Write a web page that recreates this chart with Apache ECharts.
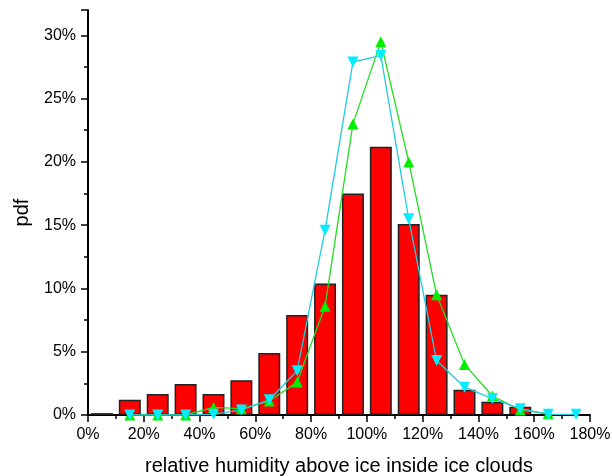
<!DOCTYPE html>
<html><head><meta charset="utf-8">
<script src="https://cdn.jsdelivr.net/npm/echarts@6/dist/echarts.min.js"></script>
<style>html,body{margin:0;padding:0;background:#fff}#c{width:612px;height:476px}</style>
</head><body><div id="c"></div>
<script>
const barX = [5,15,25,35,45,55,65,75,85,95,105,115,125,135,145,155];
const barY = [0.15,1.2,1.65,2.45,1.65,2.75,4.9,7.9,10.4,17.5,21.2,15.1,9.5,2.0,1.05,0.65];
const greenX = [15,25,35,45,55,65,75,85,95,105,115,125,135,145,155,165];
const greenY = [0,0,0,0.6,0.5,1.1,2.6,8.6,23.0,29.5,20.0,9.5,4.0,1.5,0.4,0.1];
const cyanX = [15,25,35,45,55,65,75,85,95,105,115,125,135,145,155,165,175];
const cyanY = [0,0,0,0.05,0.4,1.2,3.5,14.6,27.9,28.4,15.5,4.3,2.2,1.3,0.5,0.05,0.05];
const xTicks = [0,20,40,60,80,100,120,140,160,180];
const yTicks = [0,5,10,15,20,25,30];

const zip = (a,b) => a.map((v,i)=>[v,b[i]]);
const chart = echarts.init(document.getElementById('c'));
const font = 'Liberation Sans, Arial, sans-serif';
chart.setOption({
  animation:false,
  grid:{left:88,right:22,top:10,bottom:61,containLabel:false,outerBoundsMode:'none'},
  xAxis:{type:'value',min:0,max:180,interval:20,
    name:'relative humidity above ice inside ice clouds',nameLocation:'middle',nameGap:41,
    nameTextStyle:{fontFamily:font,fontSize:20,color:'#000'},
    axisLine:{lineStyle:{color:'#000',width:2}},
    axisTick:{show:true,length:7,lineStyle:{color:'#000',width:1.5}},
    minorTick:{show:true,splitNumber:2,length:4,lineStyle:{color:'#000',width:1.5}},
    splitLine:{show:false},
    axisLabel:{fontFamily:font,fontSize:16,color:'#000',margin:12,
      formatter:v=>xTicks.includes(v)?v+'%':''}},
  yAxis:{type:'value',min:0,max:32,interval:5,
    name:'pdf',nameLocation:'middle',nameGap:56,nameRotate:90,
    nameTextStyle:{fontFamily:font,fontSize:20,color:'#000'},
    axisLine:{show:true,lineStyle:{color:'#000',width:2}},
    axisTick:{show:true,length:7,lineStyle:{color:'#000',width:1.5}},
    minorTick:{show:true,splitNumber:2,length:4,lineStyle:{color:'#000',width:1.5}},
    splitLine:{show:false},
    axisLabel:{fontFamily:font,fontSize:16,color:'#000',margin:12,
      formatter:v=>yTicks.includes(v)?v+'%':''}},
  series:[
    {type:'bar',data:zip(barX,barY),barWidth:22,
      itemStyle:{color:'#ff0000',borderColor:'#222',borderWidth:1.5}},
    {type:'line',data:zip(greenX,greenY),symbol:'triangle',symbolSize:11,
      lineStyle:{color:'#22dd22',width:1.3},itemStyle:{color:'#00ee00'}},
    {type:'line',data:zip(cyanX,cyanY),symbol:'triangle',symbolRotate:180,symbolSize:11,
      lineStyle:{color:'#22ccdd',width:1.3},itemStyle:{color:'#00eeff'}}
  ]
});
</script></body></html>
